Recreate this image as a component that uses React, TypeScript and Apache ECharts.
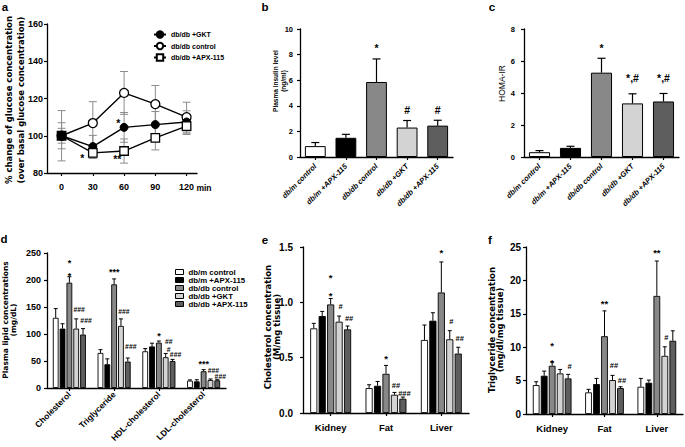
import React, { useEffect, useRef } from "react";
import * as echarts from "echarts";

const FONT = "'Liberation Sans', Arial, Helvetica, sans-serif";
const NARROW = "'Liberation Sans Narrow', 'Liberation Sans', Arial, sans-serif";
const DEJAVU = "'DejaVu Sans', 'Liberation Sans', sans-serif";

// ---------- shared groups ----------
const groupNames = ["db/m control", "db/m +APX-115", "db/db control", "db/db +GKT", "db/db +APX-115"];
const barColors = ["#ffffff", "#000000", "#888888", "#d3d3d3", "#5e5e5e"];

// ---------- panel a: glucose time course ----------
const timePoints = [0, 30, 60, 90, 120];
const lineNames = ["db/db +GKT", "db/db control", "db/db +APX-115"];
const gktMean = [100, 94.2, 104.5, 106, 107.4];
const gktErr = [7, 6, 8, 7, 6];
const ctrlMean = [100, 106.8, 123, 117, 110];
const ctrlErr = [13.5, 11.5, 11.5, 10, 8];
const apxMean = [100, 90.8, 91.8, 98.9, 105.2];
const apxErr = [4, 3, 6.5, 6.5, 4.5];
const aTicks = [80, 100, 120, 140, 160];
const aNotes: [number, number, string][] = [[54.5, 108, "*"], [20, 89.6, "*"], [53.5, 89, "**"]];

// ---------- panel b: insulin ----------
const insulinMean = [0.85, 1.5, 5.86, 2.3, 2.45];
const insulinErr = [0.28, 0.27, 1.8, 0.55, 0.42];
const bNotes: [number, number, string][] = [[2, 8.7, "*"], [3, 3.7, "#"], [4, 3.7, "#"]];

// ---------- panel c: HOMA-IR ----------
const homaMean = [0.3, 0.57, 5.27, 3.35, 3.47];
const homaErr = [0.1, 0.1, 0.9, 0.6, 0.5];
const cNotes: [number, number, string][] = [[2, 7.0, "*"], [3, 4.92, "*,#"], [4, 4.92, "*,#"]];

// ---------- panel d: plasma lipids ----------
const lipidCats = ["Cholesterol", "Triglyceride", "HDL-cholesterol", "LDL-cholesterol"];
const dDbmCtrl = [130, 65, 68, 13.6];
const dDbmApx = [110, 44, 77, 12.3];
const dDbdbCtrl = [195, 192, 84, 31];
const dDbdbGkt = [110, 115, 57, 14.8];
const dDbdbApx = [99, 49, 50, 14.2];
const dErrDbmCtrl = [17, 6, 5, 1.4];
const dErrDbmApx = [9, 10, 6, 3];
const dErrDbdbCtrl = [11, 10, 3, 3];
const dErrDbdbGkt = [18, 13, 7, 1.9];
const dErrDbdbApx = [11, 6.5, 3, 1.2];
const dNotes: [number, number, number, string][] = [
  [0, 2, 236, "*"], [0, 2, 211, "*"], [0, 3, 145, "###"], [0, 4, 125, "###"],
  [1, 2, 219, "***"], [1, 3, 142, "###"], [1, 4, 76, "###"],
  [2, 2, 100, "*"], [2, 3, 86, "##"], [2, 3, 71, "#"], [2, 4, 62, "###"],
  [3, 2, 48, "***"], [3, 3, 33, "###"], [3, 4, 22, "###"],
];

// ---------- panel e: tissue cholesterol ----------
const tissueCats = ["Kidney", "Fat", "Liver"];
const eDbmCtrl = [0.765, 0.225, 0.66];
const eDbmApx = [0.876, 0.246, 0.834];
const eDbdbCtrl = [0.981, 0.354, 1.089];
const eDbdbGkt = [0.825, 0.165, 0.666];
const eDbdbApx = [0.756, 0.129, 0.537];
const eErrDbmCtrl = [0.045, 0.03, 0.135];
const eErrDbmApx = [0.042, 0.039, 0.072];
const eErrDbdbCtrl = [0.054, 0.076, 0.276];
const eErrDbdbGkt = [0.051, 0.021, 0.078];
const eErrDbdbApx = [0.03, 0.015, 0.057];
const eNotes: [number, number, number, string][] = [
  [0, 2, 1.245, "*"], [0, 2, 1.08, "*"], [0, 3, 0.96, "#"], [0, 4, 0.855, "##"],
  [1, 2, 0.51, "*"], [1, 3, 0.25, "##"], [1, 4, 0.18, "###"],
  [2, 2, 1.47, "*"], [2, 3, 0.825, "#"], [2, 4, 0.675, "##"],
];

// ---------- panel f: tissue triglyceride ----------
const fDbmCtrl = [4.33, 3.24, 4.08];
const fDbmApx = [5.73, 4.48, 4.68];
const fDbdbCtrl = [7.22, 11.65, 17.68];
const fDbdbGkt = [6.08, 5.08, 8.71];
const fDbdbApx = [5.33, 3.88, 10.96];
const fErrDbmCtrl = [0.5, 0.45, 1.25];
const fErrDbmApx = [0.69, 0.85, 0.4];
const fErrDbdbCtrl = [0.55, 3.79, 5.22];
const fErrDbdbGkt = [0.59, 0.7, 1.35];
const fErrDbdbApx = [0.6, 0.2, 1.49];
const fNotes: [number, number, number, string][] = [
  [0, 2, 10.56, "*"], [0, 2, 8.07, "*"], [0, 4, 7.17, "#"],
  [1, 2, 16.9, "**"], [1, 3, 7.3, "##"], [1, 4, 5.0, "##"],
  [2, 2, 24.6, "**"], [2, 3, 11.45, "#"],
];

const CAT_GAP = 0.26;
const BAR_GAP = 0.18;

function barCenter(api: any, cat: number, bar: number) {
  const band = api.size([1, 0])[0];
  const remained = band * (1 - CAT_GAP);
  const w = remained / (5 + 4 * BAR_GAP);
  const total = w * 5 + w * BAR_GAP * 4;
  const base = api.coord([cat, 0])[0];
  return base - total / 2 + bar * w * (1 + BAR_GAP) + w / 2;
}

function textEl(x: number, y: number, text: string, fs: number, family = FONT) {
  const starOnly = /^\*+$/.test(text);
  return {
    type: "text",
    x,
    y: y + (starOnly ? fs * 0.25 : 0),
    style: {
      text,
      font: `bold ${fs}px ${family}`,
      fill: "#000",
      align: "center",
      verticalAlign: "middle",
      textAlign: "center",
      textVerticalAlign: "middle",
    },
  };
}

const axisLine = { show: true, onZero: false, lineStyle: { color: "#000", width: 1.3 } };
const axisTick = { show: true, length: 3, lineStyle: { color: "#000", width: 1.2 } };

function valueY(gridIndex: number, min: number, max: number, interval: number, fontSize: number, family: string, margin: number, fmt?: (v: number) => string) {
  return {
    type: "value",
    gridIndex,
    min,
    max,
    interval,
    axisLine,
    axisTick,
    splitLine: { show: false },
    axisLabel: { color: "#000", fontSize, fontWeight: "bold", fontFamily: family, margin, formatter: fmt },
  };
}

function catX(gridIndex: number, data: string[], label: any) {
  return {
    type: "category",
    gridIndex,
    data,
    axisLine,
    axisTick: { ...axisTick, alignWithLabel: true },
    axisLabel: { color: "#000", interval: 0, ...label },
    splitLine: { show: false },
  };
}

function simpleBars(idx: number, mean: number[], err: number[], notes: [number, number, string][]) {
  return [
    {
      type: "bar",
      name: idx === 1 ? "insulin" : "homa",
      xAxisIndex: idx,
      yAxisIndex: idx,
      barCategoryGap: "32%",
      data: mean.map((v, i) => ({ value: v, itemStyle: { color: barColors[i] } })),
      itemStyle: { borderColor: "#000", borderWidth: 1 },
      silent: true,
    },
    {
      type: "custom",
      xAxisIndex: idx,
      yAxisIndex: idx,
      z: 4,
      silent: true,
      clip: false,
      encode: { x: 0, y: 1 },
      data: mean.map((v, i) => [i, v, err[i]]),
      renderItem: (_p: any, api: any) => {
        const i = api.value(0), m = api.value(1), e = api.value(2);
        const p1 = api.coord([i, m]);
        const p2 = api.coord([i, m + e]);
        const st = { stroke: "#000", lineWidth: 1.2 };
        return {
          type: "group",
          children: [
            { type: "line", shape: { x1: p1[0], y1: p1[1], x2: p2[0], y2: p2[1] }, style: st },
            { type: "line", shape: { x1: p2[0] - 4, y1: p2[1], x2: p2[0] + 4, y2: p2[1] }, style: st },
          ],
        };
      },
    },
    {
      type: "custom",
      xAxisIndex: idx,
      yAxisIndex: idx,
      z: 5,
      silent: true,
      clip: false,
      encode: { x: 0, y: 1 },
      data: notes.map((n) => [n[0], n[1]]),
      renderItem: (p: any, api: any) => {
        const pt = api.coord([api.value(0), api.value(1)]);
        return textEl(pt[0], pt[1], notes[p.dataIndex][2], 10.5);
      },
    },
  ];
}

function groupedBars(idx: number, means: number[][], errs: number[][], notes: [number, number, number, string][], noteFs: number, hashFs: number, hashDx: number) {
  const bars = means.map((m, k) => ({
    type: "bar",
    name: groupNames[k],
    xAxisIndex: idx,
    yAxisIndex: idx,
    barGap: `${BAR_GAP * 100}%`,
    barCategoryGap: `${CAT_GAP * 100}%`,
    data: m,
    itemStyle: { color: barColors[k], borderColor: "#000", borderWidth: 0.9 },
    silent: true,
  }));
  const errData: number[][] = [];
  means.forEach((m, k) => m.forEach((v, c) => errData.push([c, k, v, errs[k][c]])));
  const errSeries = {
    type: "custom",
    xAxisIndex: idx,
    yAxisIndex: idx,
    z: 4,
    silent: true,
    clip: false,
    encode: { x: 0, y: 2 },
    data: errData,
    renderItem: (_p: any, api: any) => {
      const c = api.value(0), k = api.value(1), m = api.value(2), e = api.value(3);
      const cx = barCenter(api, c, k);
      const y1 = api.coord([c, m])[1];
      const y2 = api.coord([c, m + e])[1];
      const st = { stroke: "#000", lineWidth: 1 };
      return {
        type: "group",
        children: [
          { type: "line", shape: { x1: cx, y1, x2: cx, y2 }, style: st },
          { type: "line", shape: { x1: cx - 2, y1: y2, x2: cx + 2, y2 }, style: st },
        ],
      };
    },
  };
  const noteSeries = {
    type: "custom",
    xAxisIndex: idx,
    yAxisIndex: idx,
    z: 5,
    silent: true,
    clip: false,
    encode: { x: 0, y: 2 },
    data: notes.map((n) => [n[0], n[1], n[2]]),
    renderItem: (p: any, api: any) => {
      const c = api.value(0), k = api.value(1), v = api.value(2);
      const t = notes[p.dataIndex][3];
      const isHash = t.startsWith("#");
      const cx = barCenter(api, c, k) + (isHash ? hashDx : 0);
      const y = api.coord([c, v])[1];
      return textEl(cx, y, t, isHash ? hashFs : noteFs);
    },
  };
  return [...bars, errSeries, noteSeries];
}

function buildOption(): any {
  const grids = [
    { left: 47, top: 24, width: 150, height: 149 },
    { left: 300, top: 29, width: 153, height: 128 },
    { left: 524, top: 29, width: 155, height: 128 },
    { left: 47, top: 253, width: 179, height: 135 },
    { left: 303, top: 247, width: 166, height: 166 },
    { left: 526, top: 247, width: 157, height: 167 },
  ];

  const xAxis = [
    {
      type: "value",
      gridIndex: 0,
      min: -14,
      max: 130,
      axisLine,
      axisTick: { ...axisTick, customValues: timePoints },
      splitLine: { show: false },
      axisLabel: { color: "#000", fontSize: 9, fontWeight: "bold", fontFamily: NARROW, margin: 9, customValues: timePoints },
    },
    catX(1, groupNames, { rotate: 45, fontSize: 7.5, fontStyle: "italic", fontWeight: "bold", fontFamily: FONT, margin: 8 }),
    catX(2, groupNames, { rotate: 45, fontSize: 7.5, fontStyle: "italic", fontWeight: "bold", fontFamily: FONT, margin: 8 }),
    catX(3, lipidCats, { rotate: 45, fontSize: 8.5, fontWeight: "bold", fontFamily: FONT, margin: 5 }),
    catX(4, tissueCats, { fontSize: 9.5, fontWeight: "bold", fontFamily: NARROW, margin: 9 }),
    catX(5, tissueCats, { fontSize: 9.5, fontWeight: "bold", fontFamily: NARROW, margin: 9 }),
  ];

  const yAxis = [
    valueY(0, aTicks[0], aTicks[aTicks.length - 1], 20, 9, NARROW, 4),
    valueY(1, 0, 10, 2, 7.5, FONT, 7),
    valueY(2, 0, 8, 2, 7.5, FONT, 9),
    valueY(3, 0, 250, 50, 9, NARROW, 6),
    valueY(4, 0, 1.5, 0.5, 10, NARROW, 10, (v: number) => v.toFixed(1)),
    valueY(5, 0, 25, 5, 10, NARROW, 5),
  ];

  const lineBase = {
    type: "line",
    xAxisIndex: 0,
    yAxisIndex: 0,
    lineStyle: { color: "#000", width: 1.4 },
    silent: true,
    z: 3,
  };

  const aErrData: number[][] = [];
  [[ctrlMean, ctrlErr], [gktMean, gktErr], [apxMean, apxErr]].forEach(([m, e]) =>
    timePoints.forEach((t, i) => aErrData.push([t, m[i], e[i]]))
  );

  const series: any[] = [
    {
      type: "custom",
      xAxisIndex: 0,
      yAxisIndex: 0,
      z: 2,
      silent: true,
      clip: false,
      encode: { x: 0, y: 1 },
      data: aErrData,
      renderItem: (_p: any, api: any) => {
        const x = api.value(0), m = api.value(1), e = api.value(2);
        const top = api.coord([x, m + e]);
        const bot = api.coord([x, m - e]);
        const st = { stroke: "#8c8c8c", lineWidth: 1 };
        return {
          type: "group",
          children: [
            { type: "line", shape: { x1: top[0], y1: top[1], x2: bot[0], y2: bot[1] }, style: st },
            { type: "line", shape: { x1: top[0] - 4, y1: top[1], x2: top[0] + 4, y2: top[1] }, style: st },
            { type: "line", shape: { x1: bot[0] - 4, y1: bot[1], x2: bot[0] + 4, y2: bot[1] }, style: st },
          ],
        };
      },
    },
    {
      ...lineBase,
      name: "db/db control",
      symbol: "circle",
      symbolSize: 9,
      itemStyle: { color: "#ffffff", borderColor: "#000", borderWidth: 1.3 },
      data: timePoints.map((t, i) => [t, ctrlMean[i]]),
    },
    {
      ...lineBase,
      name: "db/db +GKT",
      symbol: "circle",
      symbolSize: 8,
      itemStyle: { color: "#000000", borderColor: "#000", borderWidth: 1 },
      data: timePoints.map((t, i) => [t, gktMean[i]]),
    },
    {
      ...lineBase,
      name: "db/db +APX-115",
      symbol: "rect",
      symbolSize: 8.5,
      itemStyle: { color: "#ffffff", borderColor: "#000", borderWidth: 1.3 },
      data: timePoints.map((t, i) =>
        i === 0 ? { value: [t, apxMean[i]], itemStyle: { color: "#000" } } : [t, apxMean[i]]
      ),
    },
    {
      type: "custom",
      xAxisIndex: 0,
      yAxisIndex: 0,
      z: 5,
      silent: true,
      clip: false,
      encode: { x: 0, y: 1 },
      data: aNotes.map((n) => [n[0], n[1]]),
      renderItem: (p: any, api: any) => {
        const pt = api.coord([api.value(0), api.value(1)]);
        return textEl(pt[0], pt[1], aNotes[p.dataIndex][2], 10.5);
      },
    },
    ...simpleBars(1, insulinMean, insulinErr, bNotes),
    ...simpleBars(2, homaMean, homaErr, cNotes),
    ...groupedBars(
      3,
      [dDbmCtrl, dDbmApx, dDbdbCtrl, dDbdbGkt, dDbdbApx],
      [dErrDbmCtrl, dErrDbmApx, dErrDbdbCtrl, dErrDbdbGkt, dErrDbdbApx],
      dNotes,
      9,
      6.8,
      3
    ),
    ...groupedBars(
      4,
      [eDbmCtrl, eDbmApx, eDbdbCtrl, eDbdbGkt, eDbdbApx],
      [eErrDbmCtrl, eErrDbmApx, eErrDbdbCtrl, eErrDbdbGkt, eErrDbdbApx],
      eNotes,
      9.5,
      7.5,
      1.5
    ),
    ...groupedBars(
      5,
      [fDbmCtrl, fDbmApx, fDbdbCtrl, fDbdbGkt, fDbdbApx],
      [fErrDbmCtrl, fErrDbmApx, fErrDbdbCtrl, fErrDbdbGkt, fErrDbdbApx],
      fNotes,
      9.5,
      7.5,
      1.5
    ),
  ];

  const vTitle = (x: number, y: number, text: string, fs: number, family: string, lh: number, weight = "bold") => ({
    type: "text",
    x,
    y,
    rotation: Math.PI / 2,
    style: {
      text,
      font: `${weight} ${fs}px ${family}`,
      lineHeight: lh,
      fill: "#000",
      align: "center",
      verticalAlign: "middle",
      textAlign: "center",
      textVerticalAlign: "middle",
    },
  });
  const label = (x: number, y: number, text: string) => ({
    type: "text",
    x,
    y,
    style: {
      text,
      font: `bold 11.5px ${FONT}`,
      fill: "#000",
      align: "center",
      verticalAlign: "middle",
      textAlign: "center",
      textVerticalAlign: "middle",
    },
  });

  const graphic = [
    label(5, 6.5, "a"),
    label(265, 7, "b"),
    label(492, 6.5, "c"),
    label(4, 239, "d"),
    label(265, 240, "e"),
    label(490, 240, "f"),
    {
      type: "text",
      x: 204,
      y: 187.5,
      style: {
        text: "min",
        font: `bold 8.5px ${NARROW}`,
        fill: "#000",
        align: "center",
        verticalAlign: "middle",
        textAlign: "center",
        textVerticalAlign: "middle",
      },
    },
    vTitle(15, 100, "% change of glucose concentration\n(over basal glucose concentration)", 8.5, DEJAVU, 12),
    vTitle(279, 81, "Plasma insulin level\n(ng/ml)", 6.5, FONT, 8),
    vTitle(502, 83.5, "HOMA-IR", 8.5, FONT, 10, "normal"),
    vTitle(9.5, 320, "Plasma lipid concentrations\n(mg/dL)", 7.5, DEJAVU, 8.5),
    vTitle(272.5, 327, "Cholesterol concentration\n(M/mg tissue)", 8.5, DEJAVU, 8.5),
    vTitle(495.5, 330, "Triglyceride concentration\n(mg/dl/mg tissue)", 8.5, DEJAVU, 8),
  ];

  return {
    animation: false,
    backgroundColor: "#ffffff",
    textStyle: { fontFamily: FONT },
    grid: grids.map((g) => ({ ...g, containLabel: false })),
    xAxis,
    yAxis,
    legend: [
      {
        data: lineNames,
        orient: "vertical",
        left: 148,
        top: 25,
        itemWidth: 12,
        itemHeight: 8,
        itemGap: 2.5,
        selectedMode: false,
        textStyle: { fontSize: 7, fontWeight: "bold", fontFamily: FONT, color: "#000", lineHeight: 9 },
      },
      {
        data: groupNames.map((n, k) => ({
          name: n,
          icon: "rect",
          itemStyle: { color: barColors[k], borderColor: "#000", borderWidth: 1 },
        })),
        orient: "vertical",
        left: 170,
        top: 263,
        icon: "rect",
        itemWidth: 8,
        itemHeight: 5,
        itemGap: 0,
        selectedMode: false,
        itemStyle: { borderColor: "#000", borderWidth: 1 },
        lineStyle: { width: 0 },
        textStyle: { fontSize: 7.8, fontWeight: "bold", fontFamily: FONT, color: "#000", lineHeight: 8 },
      },
    ],
    graphic,
    series,
  };
}

export default function App() {
  const ref = useRef<HTMLDivElement>(null);
  useEffect(() => {
    document.body.style.margin = "0";
    const chart = echarts.init(ref.current!, null, { renderer: "svg" });
    chart.setOption(buildOption());
    return () => chart.dispose();
  }, []);
  return (
    <div
      ref={ref}
      style={{ position: "absolute", left: 0, top: 0, width: 685, height: 447, background: "#fff" }}
    />
  );
}
